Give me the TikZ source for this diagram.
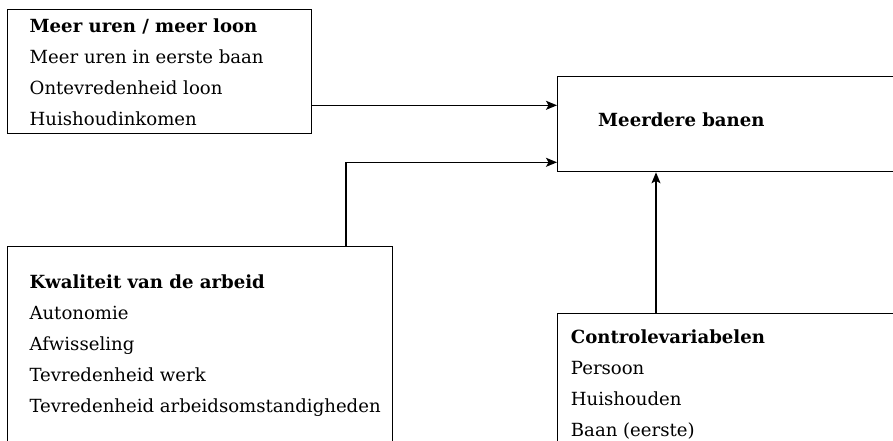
\documentclass[tikz,border=0pt]{standalone}
\usepackage{fontspec}
\setmainfont{DejaVu Serif}
\usetikzlibrary{arrows.meta}
\begin{document}
\begin{tikzpicture}[x=1pt,y=-1pt,
  box/.style={draw, line width=1.3pt, inner sep=0pt, anchor=north west},
  txt/.style={align=left, anchor=base west, inner sep=0pt, font=\fontsize{18.1}{31}\selectfont},
  arr/.style={line width=1.3pt, -{Stealth[length=11pt,width=9pt,inset=2.5pt]}}]
\useasboundingbox (0,0) rectangle (893,440);
\clip (0,0) rectangle (893,440);
% boxes
\node[box, minimum width=304pt, minimum height=124pt] (uren) at (7,9) {};
\node[box, minimum width=393pt, minimum height=95pt] (banen) at (557,76) {};
\node[box, minimum width=385pt, minimum height=300pt] (kwal) at (7,246) {};
\node[box, minimum width=400pt, minimum height=200pt] (cont) at (557,313) {};
% texts (anchored at the baseline of the last line)
\node[txt] (urenT) at (29.5,125) {\textbf{Meer uren / meer loon}\\Meer uren in eerste baan\\Ontevredenheid loon\\Huishoudinkomen};
\node[txt] (banenT) at (598,126.7) {\textbf{Meerdere banen}};
\node[txt] (kwalT) at (29.3,412.7) {\textbf{Kwaliteit van de arbeid}\\Autonomie\\Afwisseling\\Tevredenheid werk\\Tevredenheid arbeidsomstandigheden};
\node[txt] (contT) at (570.7,436.7) {\textbf{Controlevariabelen}\\Persoon\\Huishouden\\Baan (eerste)};
% helper coordinates
\coordinate (y1) at (0,105.3);
\coordinate (y2) at (0,162.3);
\coordinate (x2) at (346,0);
\coordinate (x3) at (656,0);
% connectors
\draw[arr] (uren.east |- y1) -- (banen.west |- y1);
\draw[arr] (kwal.north -| x2) |- (banen.west |- y2);
\draw[arr] (cont.north -| x3) -- (banen.south -| x3);
\end{tikzpicture}
\end{document}
